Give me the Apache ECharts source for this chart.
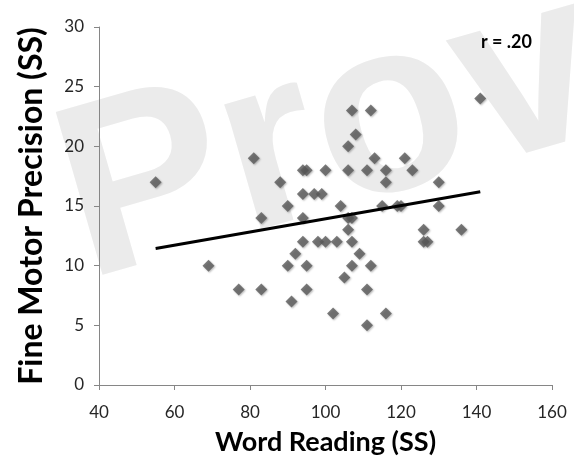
<!DOCTYPE html>
<html>
<head>
<meta charset="utf-8">
<script src="https://cdn.jsdelivr.net/npm/echarts@6/dist/echarts.min.js"></script>
<style>
  html, body { margin: 0; padding: 0; background: #fff; }
  #chart { width: 574px; height: 471px; }
</style>
</head>
<body>
<div id="chart"></div>
<script>
// word reading (SS) of each child
const wordReading = [
  55, 69, 77, 81, 83, 83, 88, 90, 90, 91, 92, 94, 95, 94, 94, 94, 95, 95,
  97, 99, 98, 100, 100, 102, 103, 104, 105, 106, 106, 106, 106, 107, 107,
  108, 107, 107, 109, 111, 111, 111, 112, 112, 113, 115, 116, 116, 116,
  119, 120, 121, 123, 126, 126, 127, 130, 130, 136, 141
];
// fine motor precision (SS), same order
const fineMotor = [
  17, 10, 8, 19, 14, 8, 17, 15, 10, 7, 11, 18, 18, 16, 14, 12, 10, 8,
  16, 16, 12, 12, 18, 6, 12, 15, 9, 20, 18, 13, 14, 14, 23,
  21, 12, 10, 11, 18, 8, 5, 23, 10, 19, 15, 18, 17, 6,
  15, 15, 19, 18, 13, 12, 12, 17, 15, 13, 24
];
// ends of the fitted line
const trendX = [55, 141];
const trendY = [11.43, 16.2];
const xTicks = [40, 160, 20];
const yTicks = [0, 30, 5];
const rText = 'r = .20';

const chart = echarts.init(document.getElementById('chart'));

const points = wordReading.map((x, i) => [x, fineMotor[i]]);
const trend = trendX.map((x, i) => [x, trendY[i]]);

const labelFont = 'Lato';
const gray = '#868686';

const option = {
  animation: false,
  grid: { left: 99, right: 22, top: 27, bottom: 86 },
  graphic: [
    {
      type: 'text',
      z: -10,
      x: 68,
      y: 214,
      rotation: 0.28,
      silent: true,
      style: {
        text: 'Prov',
        fill: '#ebebeb',
        font: 'bold 246px "Liberation Sans"',
        textAlign: 'left',
        textVerticalAlign: 'middle'
      }
    },
    {
      type: 'text',
      right: 42,
      top: 33,
      style: {
        text: rText,
        fill: '#000',
        font: 'bold 18px Lato'
      }
    }
  ],
  xAxis: {
    type: 'value',
    min: xTicks[0],
    max: xTicks[1],
    interval: xTicks[2],
    name: 'Word Reading (SS)',
    nameLocation: 'middle',
    nameGap: 44,
    nameTextStyle: { fontFamily: labelFont, fontWeight: 'bold', fontSize: 27, color: '#000' },
    axisLine: { lineStyle: { color: gray, width: 1 } },
    axisTick: { show: true, inside: false, length: 5, lineStyle: { color: gray } },
    axisLabel: { fontFamily: labelFont, fontSize: 17, color: '#262626', margin: 19 },
    splitLine: { show: false }
  },
  yAxis: {
    type: 'value',
    min: yTicks[0],
    max: yTicks[1],
    interval: yTicks[2],
    name: 'Fine Motor Precision (SS)',
    nameLocation: 'middle',
    nameGap: 51,
    nameTextStyle: { fontFamily: labelFont, fontWeight: 'bold', fontSize: 32, color: '#000' },
    axisLine: { show: true, lineStyle: { color: gray, width: 1 } },
    axisTick: { show: true, inside: false, length: 5, lineStyle: { color: gray } },
    axisLabel: { fontFamily: labelFont, fontSize: 17, color: '#262626', margin: 15 },
    splitLine: { show: false }
  },
  series: [
    {
      type: 'scatter',
      symbol: 'diamond',
      symbolSize: 12,
      data: points,
      z: 3,
      itemStyle: {
        color: '#5a5a5a',
        shadowBlur: 2,
        shadowColor: 'rgba(0,0,0,0.35)',
        shadowOffsetX: 1,
        shadowOffsetY: 1
      }
    },
    {
      type: 'line',
      data: trend,
      symbol: 'none',
      z: 4,
      lineStyle: { color: '#000', width: 3 }
    }
  ]
};

chart.setOption(option);
</script>
</body>
</html>
